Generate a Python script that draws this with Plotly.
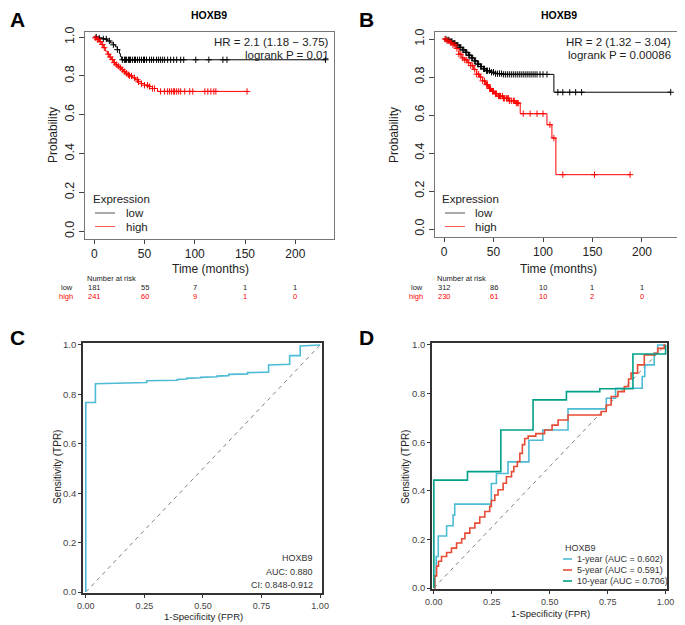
import plotly.graph_objects as go

# the page body adds an 8px offset; the figure is sized so it ends at the window edge
OFF = 8
W, H = 685 - OFF, 625 - OFF
def px(x): return (x - OFF) / W
def py(y): return 1 - (y - OFF) / H

FONT = "Liberation Sans, Arial, sans-serif"

# ---------------- Panel A (KM) ----------------
A_low_t = [0, 5, 9, 13, 16, 19, 21, 23, 25, 26, 27, 230]
A_low_s = [1.0, 0.995, 0.99, 0.98, 0.97, 0.96, 0.95, 0.935, 0.915, 0.90, 0.883, 0.883]
A_low_cens = [2, 5, 9, 12, 15, 19, 23, 28, 30, 31, 32, 34, 35, 36, 38, 40, 41, 43, 45, 47, 49, 50,
              52, 55, 57, 59, 62, 64, 66, 68, 70, 73, 76, 79, 82, 86, 89, 101, 114, 128, 132, 230]
A_high_t = [0, 1, 3, 5, 7, 9, 11, 13, 15, 17, 19, 21, 23, 25, 27, 29, 31, 33, 35, 38, 41, 44, 47,
            50, 54, 58, 63, 152]
A_high_s = [1.0, 0.996, 0.988, 0.976, 0.962, 0.945, 0.928, 0.912, 0.897, 0.884, 0.868, 0.858, 0.85,
            0.842, 0.832, 0.822, 0.814, 0.806, 0.8, 0.79, 0.78, 0.77, 0.76, 0.752, 0.745, 0.735, 0.72, 0.72]
A_high_cens = [1, 3, 4, 6, 8, 10, 14, 16, 18, 20, 22, 24, 26, 28, 30, 32, 34, 35, 37, 40, 43, 44, 47,
               50, 53, 55, 58, 60, 66, 70, 73, 75, 77, 79, 80, 82, 84, 86, 90, 95, 98, 110, 113, 116,
               119, 121, 152]
A_risk_times = [0, 50, 100, 150, 200]
A_risk_low = [181, 55, 7, 1, 1]
A_risk_high = [241, 60, 9, 1, 0]
A_hr = "HR = 2.1 (1.18 \u2212 3.75)"
A_p = "logrank P = 0.01"

# ---------------- Panel B (KM) ----------------
B_low_t = [0, 4, 7, 10, 13, 16, 19, 22, 25, 28, 31, 34, 37, 40, 43, 47, 52, 60, 111, 229]
B_low_s = [1.0, 0.995, 0.988, 0.978, 0.968, 0.956, 0.943, 0.93, 0.915, 0.9, 0.885, 0.868, 0.855,
           0.843, 0.833, 0.825, 0.818, 0.814, 0.72, 0.72]
B_low_cens = [2, 4, 5, 7, 8, 10, 11, 13, 14, 16, 17, 19, 20, 22, 23, 25, 26, 28, 29, 31, 32, 34, 35,
              37, 38, 40, 41, 43, 44, 46, 48, 50, 52, 54, 56, 58, 60, 62, 64, 66, 68, 70, 72, 74, 76,
              78, 80, 82, 84, 86, 88, 90, 92, 94, 97, 100, 104, 115, 120, 127, 133, 139, 229]
B_high_t = [0, 3, 6, 9, 12, 15, 18, 21, 24, 27, 30, 33, 36, 39, 42, 45, 48, 51, 55, 60, 66, 72, 77,
            104, 109, 113, 188]
B_high_s = [1.0, 0.99, 0.98, 0.97, 0.95, 0.92, 0.9, 0.89, 0.875, 0.86, 0.84, 0.815, 0.8, 0.78, 0.76,
            0.74, 0.725, 0.712, 0.7, 0.688, 0.675, 0.663, 0.607, 0.549, 0.479, 0.286, 0.286]
B_high_cens = [1, 3, 5, 7, 9, 11, 13, 15, 17, 19, 21, 23, 25, 27, 29, 31, 33, 35, 37, 39, 41, 43, 44,
               46, 47, 49, 50, 52, 53, 55, 56, 57, 59, 60, 61, 63, 64, 65, 66, 68, 70, 71, 73, 74, 75,
               80, 87, 94, 100, 107, 111, 120, 152, 188]
B_risk_times = [0, 50, 100, 150, 200]
B_risk_low = [312, 86, 10, 1, 1]
B_risk_high = [230, 61, 10, 2, 0]
B_hr = "HR = 2 (1.32 \u2212 3.04)"
B_p = "logrank P = 0.00086"

# ---------------- Panel C (ROC) ----------------
C_fpr = [0, 0, 0.041, 0.041, 0.26, 0.26, 0.39, 0.39, 0.43, 0.43, 0.49, 0.49, 0.56, 0.56, 0.61, 0.61,
         0.69, 0.69, 0.78, 0.78, 0.87, 0.87, 0.915, 0.915, 1.0]
C_tpr = [0, 0.767, 0.767, 0.843, 0.848, 0.855, 0.857, 0.860, 0.862, 0.865, 0.867, 0.869, 0.871, 0.874,
         0.876, 0.881, 0.883, 0.888, 0.89, 0.919, 0.922, 0.957, 0.957, 0.996, 1.0]
C_text = ["HOXB9", "AUC: 0.880", "CI: 0.848-0.912"]

# ---------------- Panel D (time ROC) ----------------
D1_fpr = [0, 0.004, 0.01, 0.019, 0.055, 0.083, 0.09, 0.248, 0.27, 0.32, 0.41, 0.47, 0.579, 0.744,
          0.784, 0.899, 0.91, 0.951, 0.966, 1.0]
D1_tpr = [0, 0.05, 0.13, 0.214, 0.256, 0.30, 0.345, 0.43, 0.471, 0.519, 0.608, 0.65, 0.737, 0.781,
          0.822, 0.87, 0.918, 0.966, 1.0, 1.0]
D5_fpr = [0, 0.004, 0.012, 0.02, 0.033, 0.055, 0.076, 0.098, 0.12, 0.134, 0.155, 0.177, 0.198, 0.22,
          0.241, 0.248, 0.263, 0.277, 0.299, 0.313, 0.335, 0.345, 0.36, 0.371, 0.382, 0.392, 0.407,
          0.44, 0.478, 0.51, 0.536, 0.579, 0.722, 0.744, 0.765, 0.794, 0.822, 0.84, 0.851, 0.879,
          0.908, 0.951, 0.966, 0.994, 1.0]
D5_tpr = [0, 0.05, 0.09, 0.11, 0.13, 0.146, 0.164, 0.185, 0.203, 0.226, 0.247, 0.267, 0.292, 0.315,
          0.336, 0.36, 0.383, 0.404, 0.431, 0.458, 0.479, 0.5, 0.52, 0.554, 0.59, 0.615, 0.625, 0.635,
          0.65, 0.67, 0.691, 0.712, 0.726, 0.753, 0.788, 0.808, 0.829, 0.86, 0.884, 0.918, 0.959,
          0.966, 0.986, 1.0, 1.0]
D10_fpr = [0, 0, 0.145, 0.289, 0.428, 0.572, 0.716, 0.859, 1.0, 1.0]
D10_tpr = [0, 0.444, 0.479, 0.65, 0.774, 0.808, 0.82, 0.963, 0.963, 1.0]
D_labels = ["1-year (AUC = 0.602)", "5-year (AUC = 0.591)", "10-year (AUC = 0.706)"]
D_colors = ["#4DBBD5", "#E64B35", "#00A087"]

fig = go.Figure()

def step_value(ts, ss, t):
    v = ss[0]
    for ti, si in zip(ts, ss):
        if ti <= t:
            v = si
        else:
            break
    return v

def km(ts, ss, cens, color, xa, ya):
    fig.add_trace(go.Scatter(x=ts, y=ss, mode="lines", line=dict(color=color, width=1, shape="hv"),
                             xaxis=xa, yaxis=ya, showlegend=False, hoverinfo="skip"))
    fig.add_trace(go.Scatter(x=cens, y=[step_value(ts, ss, c) for c in cens], mode="markers",
                             marker=dict(symbol="cross-thin", size=4.5, line=dict(color=color, width=1)),
                             xaxis=xa, yaxis=ya, showlegend=False, hoverinfo="skip"))

km(A_low_t, A_low_s, A_low_cens, "black", "x", "y")
km(A_high_t, A_high_s, A_high_cens, "red", "x", "y")
km(B_low_t, B_low_s, B_low_cens, "black", "x2", "y2")
km(B_high_t, B_high_s, B_high_cens, "red", "x2", "y2")

# ROC C
fig.add_trace(go.Scatter(x=[0, 1], y=[0, 1], mode="lines", line=dict(color="#808080", width=1, dash="4px,4px"),
                         xaxis="x3", yaxis="y3", showlegend=False, hoverinfo="skip"))
fig.add_trace(go.Scatter(x=C_fpr, y=C_tpr, mode="lines", line=dict(color="#4DBBD5", width=1.6),
                         xaxis="x3", yaxis="y3", showlegend=False, hoverinfo="skip"))
# ROC D
fig.add_trace(go.Scatter(x=[0, 1], y=[0, 1], mode="lines", line=dict(color="#808080", width=1, dash="4px,4px"),
                         xaxis="x4", yaxis="y4", showlegend=False, hoverinfo="skip"))
for fx, fy, col in [(D1_fpr, D1_tpr, D_colors[0]), (D5_fpr, D5_tpr, D_colors[1]), (D10_fpr, D10_tpr, D_colors[2])]:
    fig.add_trace(go.Scatter(x=fx, y=fy, mode="lines", line=dict(color=col, width=1.6, shape="hv"),
                             xaxis="x4", yaxis="y4", showlegend=False, hoverinfo="skip"))

def km_x(dom, rng, anchor):
    return dict(domain=dom, range=rng, tickvals=[0, 50, 100, 150, 200], ticks="outside", ticklen=4,
                tickcolor="#444", showline=True, mirror=True, linecolor="#777", linewidth=1,
                showgrid=False, zeroline=False, tickfont=dict(size=12, color="#222", family=FONT),
                anchor=anchor, automargin=False)

def km_y(dom, rng, anchor):
    return dict(domain=dom, range=rng, tickvals=[0, 0.2, 0.4, 0.6, 0.8, 1.0],
                ticktext=["0.0", "0.2", "0.4", "0.6", "0.8", "1.0"], tickangle=-90, ticks="outside",
                ticklen=5, tickcolor="#444", showline=True, mirror=True, linecolor="#777", linewidth=1,
                showgrid=False, zeroline=False, tickfont=dict(size=12.5, color="#222", family=FONT),
                anchor=anchor, automargin=False)

def roc_x(dom, rng, anchor):
    return dict(domain=dom, range=rng, tickvals=[0, 0.25, 0.5, 0.75, 1.0],
                ticktext=["0.00", "0.25", "0.50", "0.75", "1.00"], ticks="outside", ticklen=3,
                tickcolor="#333", showline=True, mirror=True, linecolor="#333", linewidth=1.6,
                showgrid=False, zeroline=False, tickfont=dict(size=9, color="#444", family=FONT),
                anchor=anchor, automargin=False)

def roc_y(dom, rng, anchor):
    return dict(domain=dom, range=rng, tickvals=[0, 0.2, 0.4, 0.6, 0.8, 1.0],
                ticktext=["0.0", "0.2", "0.4", "0.6", "0.8", "1.0"], ticks="outside", ticklen=3,
                tickcolor="#333", showline=True, mirror=True, linecolor="#333", linewidth=1.6,
                showgrid=False, zeroline=False, tickfont=dict(size=9.5, color="#444", family=FONT),
                anchor=anchor, automargin=False)

fig.update_layout(
    template="none",
    width=W, height=H, margin=dict(l=0, r=0, t=0, b=0, autoexpand=False),
    paper_bgcolor="white", plot_bgcolor="white", font=dict(family=FONT),
    xaxis=km_x([px(85), px(334)], [-9.2, 238.5], "y"),
    yaxis=km_y([py(239), py(32)], [-0.04, 1.026], "x"),
    xaxis2=km_x([px(435), px(680)], [-9.1, 238.4], "y2"),
    yaxis2=km_y([py(237), py(32)], [-0.042, 1.037], "x2"),
    xaxis3=roc_x([px(83), px(322)], [-0.012, 1.008], "y3"),
    yaxis3=roc_y([py(593), py(343)], [-0.004, 1.008], "x3"),
    xaxis4=roc_x([px(432), px(667)], [-0.008, 1.006], "y4"),
    yaxis4=roc_y([py(589), py(343)], [-0.004, 1.008], "x4"),
)

ann = []
def text(x, y, s, size, xanchor="center", color="#222", bold=False, angle=0, xref="paper"):
    ann.append(dict(x=x if xref != "paper" else px(x), y=py(y), xref=xref, yref="paper", text=(f"<b>{s}</b>" if bold else s),
                    showarrow=False, xanchor=xanchor, yanchor="middle", textangle=angle,
                    font=dict(size=size, color=color, family=FONT)))

# panel letters
for lx, ly, L in [(17, 20, "A"), (366, 20, "B"), (17, 337, "C"), (366, 337, "D")]:
    text(lx, ly, L, 21, bold=True, color="black")

# KM titles and labels
for cx, hrx, hr, pv, xa, ylab_x, risk_left, risk_lab_x, risk_t, rl, rh, tcx, leg_x in [
        (209, 331, A_hr, A_p, "x", 53, 85, 75, A_risk_times, A_risk_low, A_risk_high, 210, 91),
        (559, 673, B_hr, B_p, "x2", 394, 435, 425, B_risk_times, B_risk_low, B_risk_high, 558, 440)]:
    text(cx, 15, "HOXB9", 10.5, bold=True, color="black")
    text(hrx, 42, hr, 11.5, xanchor="right")
    text(hrx, 55.5, pv, 11.5, xanchor="right")
    text(ylab_x, 135, "Probability", 12, angle=-90)
    text(tcx, 269, "Time (months)", 12)
    text(risk_left, 278, "Number at risk", 7.5, xanchor="left")
    text(risk_lab_x, 287.5, "low", 7.5, xanchor="right")
    text(risk_lab_x, 296.5, "high", 7.5, xanchor="right", color="red")
    for t, lo, hi in zip(risk_t, rl, rh):
        text(t, 287.5, str(lo), 7.5, xref=xa)
        text(t, 296.5, str(hi), 7.5, xref=xa, color="red")
    text(leg_x, 198.5, "Expression", 11.5, xanchor="left")
    text(leg_x + 33, 213, "low", 11.5, xanchor="left")
    text(leg_x + 33, 226.5, "high", 11.5, xanchor="left")

shapes = []
for lx in [95, 445]:
    shapes.append(dict(type="line", xref="paper", yref="paper", x0=px(lx), x1=px(lx + 20), y0=py(213), y1=py(213),
                       line=dict(color="#555", width=1)))
    shapes.append(dict(type="line", xref="paper", yref="paper", x0=px(lx), x1=px(lx + 20), y0=py(226.5), y1=py(226.5),
                       line=dict(color="#ff5a5a", width=1)))

# ROC labels
text(203, 616, "1-Specificity (FPR)", 9.5, color="#222")
text(57, 467, "Sensitivity (TPR)", 10, color="#222", angle=-90)
text(550, 613, "1-Specificity (FPR)", 9.5, color="#222")
text(405, 467, "Sensitivity (TPR)", 10, color="#222", angle=-90)
for i, s in enumerate(C_text):
    text(315, 558 + i * 13.5, s, 9, xanchor="right", color="#333")

# D legend
text(563, 548, "HOXB9", 9, xanchor="left", color="#333")
for i, (lab, col) in enumerate(zip(D_labels, D_colors)):
    yy = 559 + i * 11
    text(575, yy, lab, 9, xanchor="left", color="#333")
    shapes.append(dict(type="line", xref="paper", yref="paper", x0=px(563), x1=px(572), y0=py(yy), y1=py(yy),
                       line=dict(color=col, width=1.6)))

fig.update_layout(annotations=ann, shapes=shapes)
fig.write_html("out.html")
